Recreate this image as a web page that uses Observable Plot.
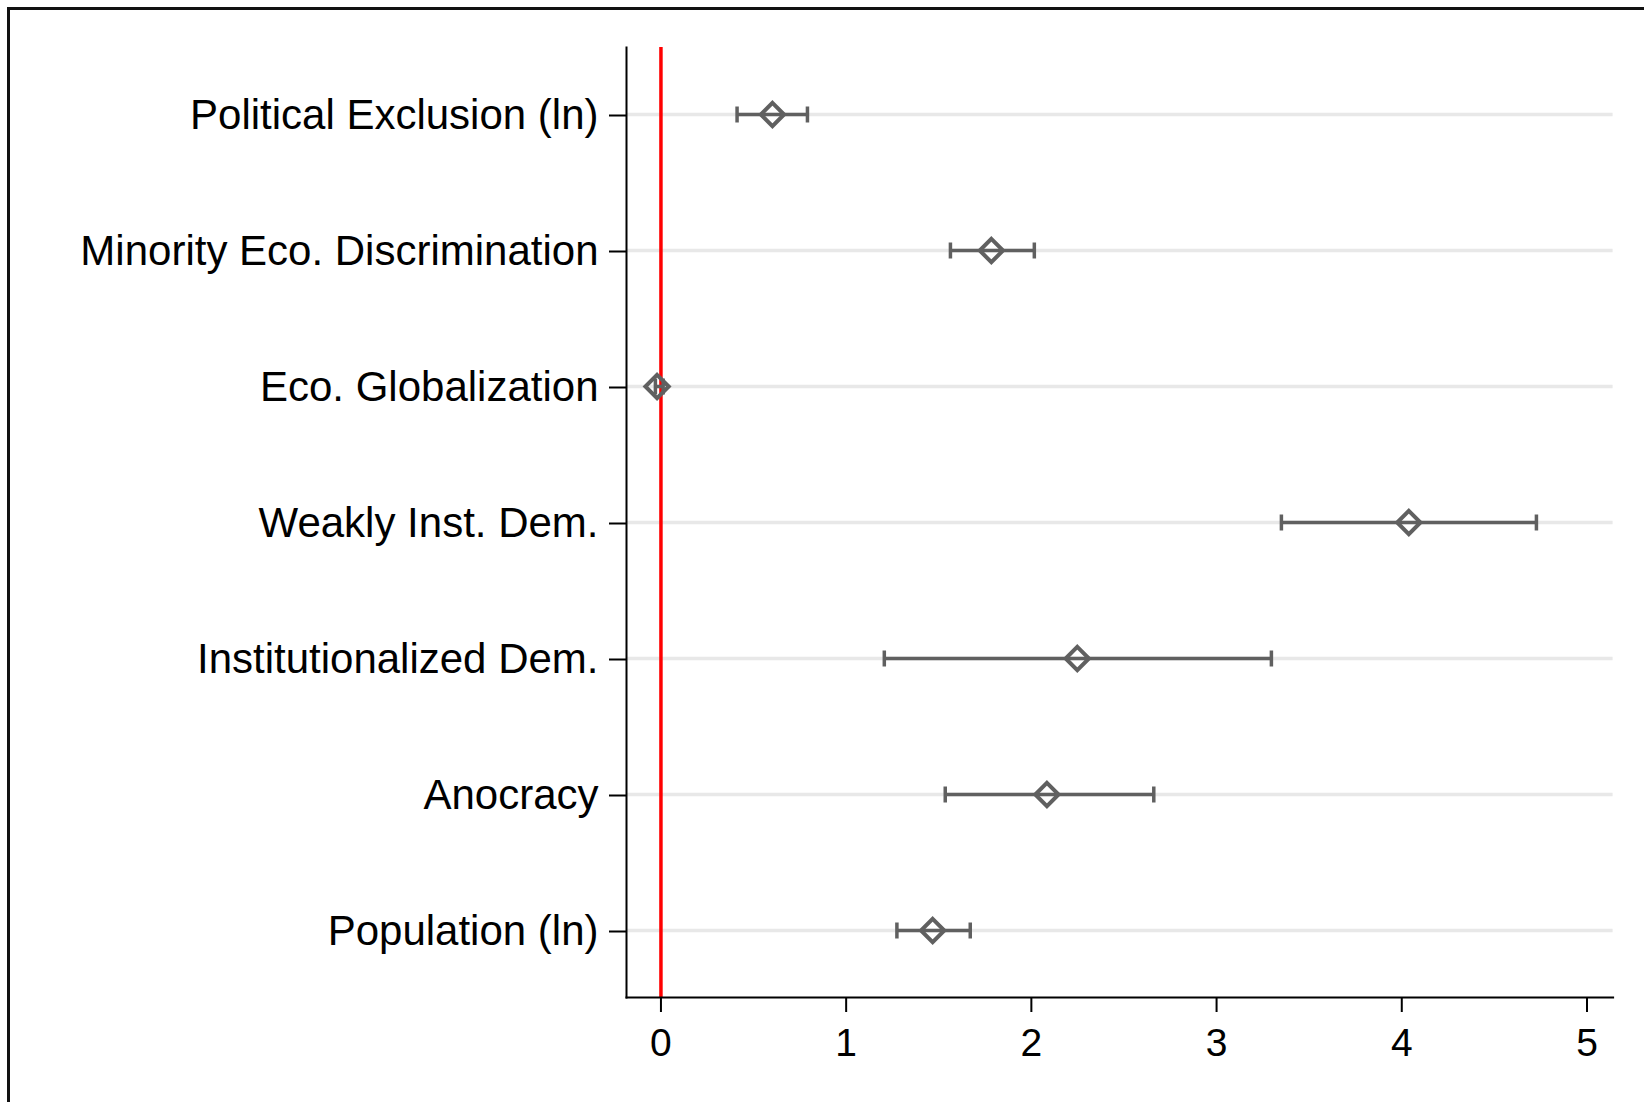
<!DOCTYPE html>
<html>
<head>
<meta charset="utf-8">
<script src="https://cdn.jsdelivr.net/npm/d3@7"></script>
<script src="https://cdn.jsdelivr.net/npm/@observablehq/plot@0.6"></script>
<style>
  html, body { margin: 0; padding: 0; background: #fff; overflow: hidden; }
  #wrap { position: relative; width: 1644px; height: 1102px; }
  #frame { position: absolute; left: 7px; top: 7px; width: 3000px; height: 3000px;
           border-left: 3px solid #111; border-top: 3px solid #111; pointer-events: none; }
</style>
</head>
<body>
<div id="wrap"><div id="frame"></div></div>
<script>
const variables = [
  "Political Exclusion (ln)",
  "Minority Eco. Discrimination",
  "Eco. Globalization",
  "Weakly Inst. Dem.",
  "Institutionalized Dem.",
  "Anocracy",
  "Population (ln)"
];
const estimates = [0.602, 1.784, -0.021, 4.038, 2.248, 2.084, 1.467];
const lower     = [0.411, 1.563, -0.030, 3.350, 1.206, 1.535, 1.274];
const upper     = [0.791, 2.016,  0.012, 4.727, 3.296, 2.661, 1.670];
const xTicks = [0, 1, 2, 3, 4, 5];

const data = variables.map((name, i) => ({name, est: estimates[i], lo: lower[i], hi: upper[i]}));

const capSymbol = { draw(ctx) { ctx.moveTo(0, -8); ctx.lineTo(0, 8); } };
const grey = "#606060";
const font = "'Liberation Sans', Arial, Helvetica, sans-serif";

const chart = Plot.plot({
  width: 1644,
  height: 1102,
  marginLeft: 626,
  marginRight: 31.4,
  marginTop: 47,
  marginBottom: 105,
  style: { fontFamily: font, background: "white", color: "black", overflow: "visible" },
  x: { domain: [-0.186, 5.141] },
  y: { type: "point", domain: variables, padding: 0.49 },
  marks: [
    Plot.ruleY(variables, { y: d => d, stroke: "#e8e8e8", strokeWidth: 3.5 }),
    Plot.ruleX([0], { stroke: "#ff0000", strokeWidth: 3.5 }),
    Plot.ruleY(data, { y: "name", x1: "lo", x2: "hi", stroke: grey, strokeWidth: 3.5 }),
    Plot.dot(data, { x: "lo", y: "name", symbol: capSymbol, stroke: grey, strokeWidth: 3.5, fill: "none" }),
    Plot.dot(data, { x: "hi", y: "name", symbol: capSymbol, stroke: grey, strokeWidth: 3.5, fill: "none" }),
    Plot.dot(data, { x: "est", y: "name", symbol: "diamond2", r: 10.5, stroke: grey, strokeWidth: 4, fill: "none" }),
    Plot.frame({ anchor: "left", strokeWidth: 2 }),
    Plot.frame({ anchor: "bottom", strokeWidth: 2 }),
    Plot.axisX({ ticks: xTicks, tickSize: 15, tickPadding: 16, fontSize: 39, strokeWidth: 2, label: null, tickFormat: d3.format("d") }),
    Plot.axisY({ tickSize: 17, tickPadding: 11, fontSize: 42, strokeWidth: 2, label: null, dy: 1 })
  ]
});
document.getElementById("wrap").prepend(chart);
</script>
</body>
</html>
